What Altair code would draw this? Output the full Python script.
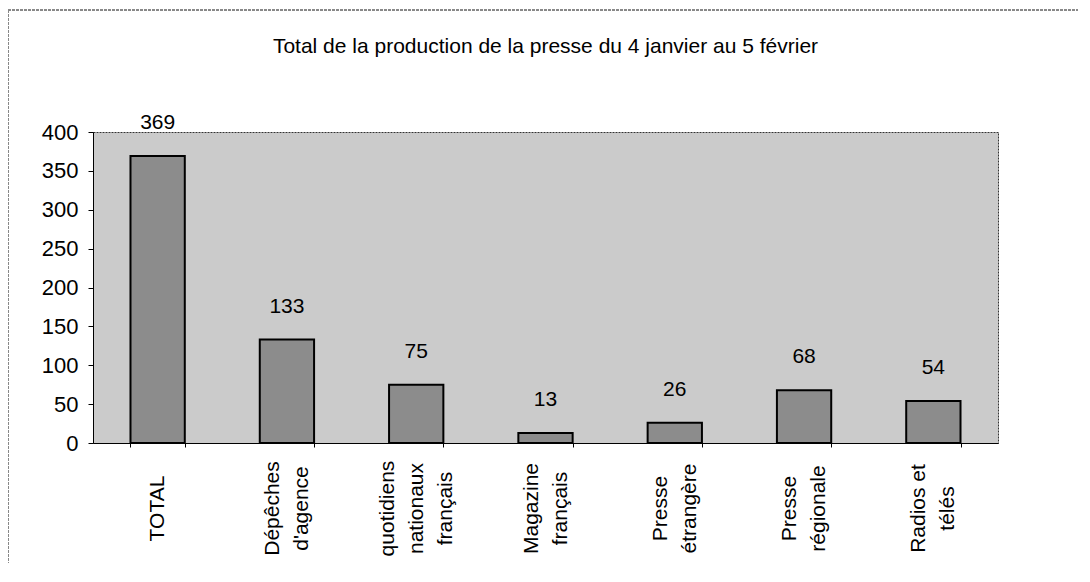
import altair as alt
import pandas as pd

categories = ["TOTAL", "Dépêches d'agence", "quotidiens nationaux français",
              "Magazine français", "Presse étrangère", "Presse régionale", "Radios et télés"]
label_lines = [["TOTAL"], ["Dépêches", "d'agence"], ["quotidiens", "nationaux", "français"],
               ["Magazine", "français"], ["Presse", "étrangère"], ["Presse", "régionale"],
               ["Radios et", "télés"]]
values = [369, 133, 75, 13, 26, 68, 54]
y_ticks = [0, 50, 100, 150, 200, 250, 300, 350, 400]
title_text = "Total de la production de la presse du 4 janvier au 5 février"

df = pd.DataFrame({"cat": categories, "val": values})

FONT = "Liberation Sans"
LH = 29
label_map = {c: l for c, l in zip(categories, label_lines)}
label_expr = "{" + ",".join(
    '"%s": [%s]' % (c.replace('"', '\\"'), ",".join('"%s"' % s for s in l))
    for c, l in label_map.items()) + "}[datum.value]"

three_line = [c for c, l in label_map.items() if len(l) == 3]
two_line = [c for c, l in label_map.items() if len(l) == 2]
test3 = " || ".join('datum.value === "%s"' % c for c in three_line)
test2 = " || ".join('datum.value === "%s"' % c for c in two_line)
label_offset = {"condition": [{"test": test3, "value": -LH},
                              {"test": test2, "value": -LH / 2}],
                "value": 0}

x = alt.X("cat:N", sort=categories, title=None,
          scale=alt.Scale(paddingInner=0.58, paddingOuter=0.29),
          axis=alt.Axis(labelAngle=-90, labelAlign="center", labelBaseline="middle",
                        labelExpr=label_expr, labelLineHeight=LH, labelPadding=61,
                        labelOffset=label_offset,
                        labelFont=FONT, labelFontSize=21, labelColor="black",
                        tickBand="extent", tickSize=4, tickColor="black",
                        domainColor="black", labelLimit=300))
y = alt.Y("val:Q", title=None,
          scale=alt.Scale(domain=[0, 400], nice=False),
          axis=alt.Axis(values=y_ticks, tickSize=5, tickColor="black", labelPadding=10,
                        labelFont=FONT, labelFontSize=22, labelColor="black",
                        domainColor="black", grid=False))

base = alt.Chart(df)
bars = base.mark_bar(fill="#8c8c8c", stroke="black", strokeWidth=2).encode(x=x, y=y)
texts = base.mark_text(font=FONT, fontSize=21, color="black", dy=-27,
                       baseline="alphabetic").encode(x=x, y=y, text="val:Q")

frame_top = alt.Chart(df).mark_rule(color="#888888", strokeWidth=1, strokeDash=[3, 1]).encode(
    x=alt.value(-85), x2=alt.value(989), y=alt.value(-122))
frame_left = alt.Chart(df).mark_rule(color="#888888", strokeWidth=1, strokeDash=[3, 1]).encode(
    x=alt.value(-85), y=alt.value(-122), y2=alt.value(450))

chart = alt.layer(frame_top, frame_left, bars, texts).properties(
    width=905, height=311,
    background="white",
    title=alt.TitleParams(title_text, font=FONT, fontSize=21, fontWeight="normal",
                          color="black", anchor="middle", baseline="alphabetic", offset=-64),
    autosize=alt.AutoSizeParams(type="none"),
    padding={"left": 85, "top": 124, "right": 80, "bottom": 120},
).configure_view(fill="#cbcbcb", stroke="#333333", strokeWidth=1, strokeDash=[2, 1])

chart.save("out.html", embed_options={"renderer": "svg", "actions": False})
